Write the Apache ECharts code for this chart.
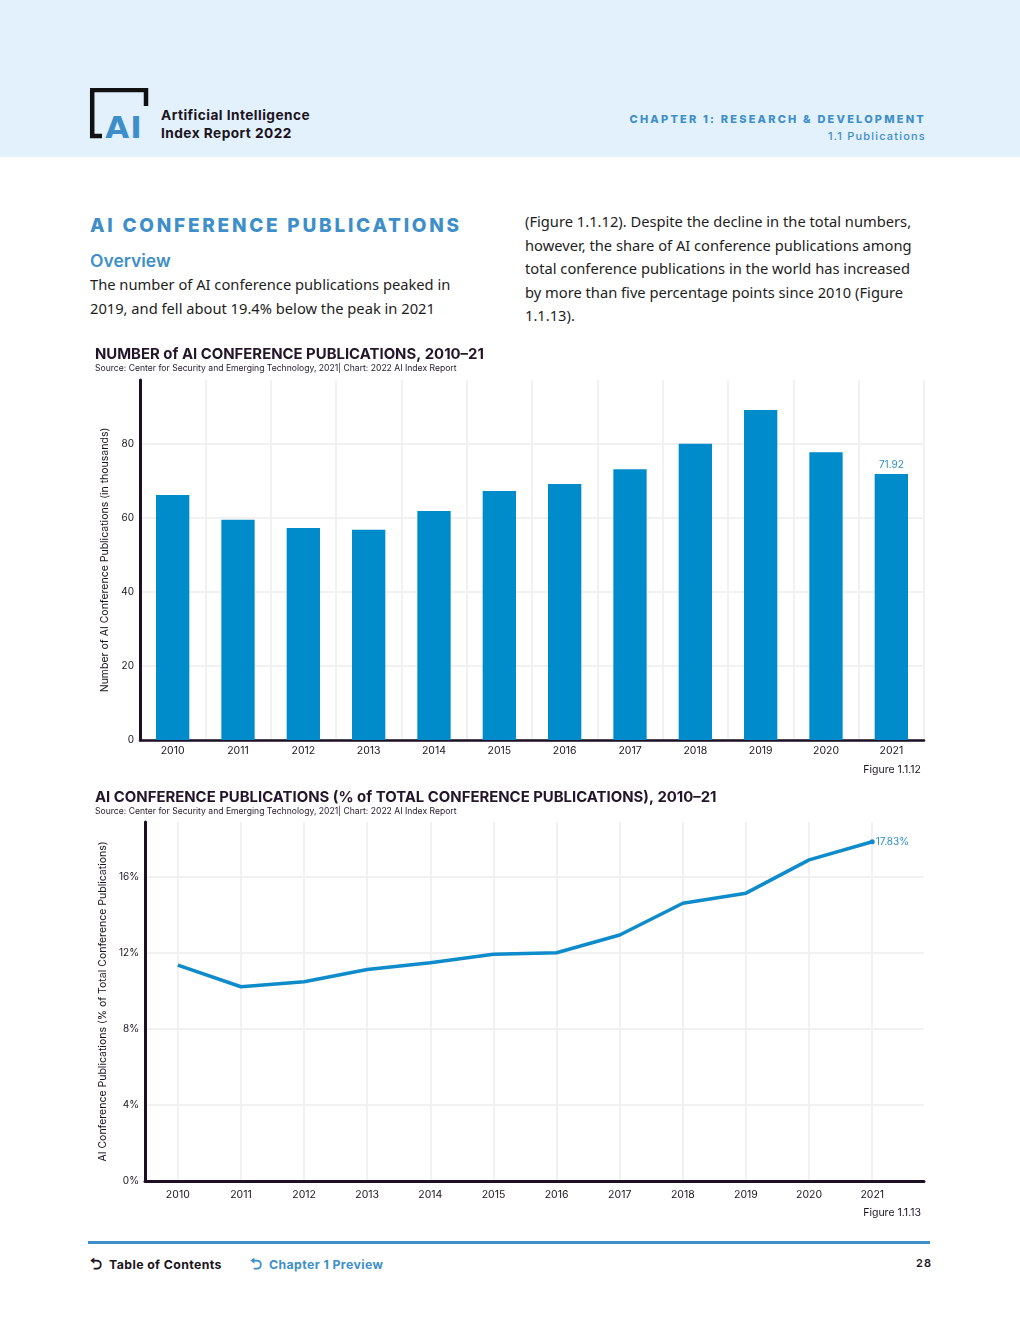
<!DOCTYPE html>
<html>
<head>
<meta charset="utf-8">
<script src="https://cdn.jsdelivr.net/npm/echarts@6/dist/echarts.min.js"></script>
<style>
  html, body { margin: 0; padding: 0; background: #ffffff; }
  body { width: 1020px; height: 1320px; position: relative; overflow: hidden; font-family: "Noto Sans", sans-serif; }
  .band { position: absolute; left: 0; top: 0; width: 1020px; height: 157px; background: #e3f1fc; }
  .brand { position: absolute; left: 161px; top: 106px; font-family: Inter, sans-serif; font-weight: 700; font-size: 13.7px; letter-spacing: 0.45px; line-height: 18px; color: #1b1420; }
  .chap { position: absolute; right: 94px; top: 111px; text-align: right; font-family: Inter, sans-serif; color: #3e8fc9; }
  .chap .l1 { font-weight: 800; font-size: 11px; letter-spacing: 2.2px; line-height: 16px; }
  .chap .l2 { font-weight: 500; font-size: 11px; letter-spacing: 1.2px; line-height: 18px; }
  .sect { position: absolute; left: 90px; top: 214px; font-family: Inter, sans-serif; font-weight: 800; font-size: 19px; letter-spacing: 2.75px; color: #3e8fc9; }
  .ovr { position: absolute; left: 90px; top: 250px; font-family: Inter, sans-serif; font-weight: 600; font-size: 17.5px; color: #3e8fc9; }
  .body1, .body2 { position: absolute; font-size: 14.7px; line-height: 23.6px; color: #1d1d1d; white-space: nowrap; }
  .body1 { left: 90px; top: 273px; }
  .body2 { left: 525px; top: 210px; }
  #chart { position: absolute; left: 0; top: 330px; width: 1020px; height: 900px; }
  .foot { position: absolute; left: 88px; top: 1241px; width: 842px; height: 3px; background: #3e8fc9; }
  .fl { position: absolute; top: 1253px; font-family: Inter, sans-serif; font-weight: 700; font-size: 12.3px; letter-spacing: 0.4px; white-space: nowrap; }
  .fl .ar { font-size: 15px; display: inline-block; width: 19px; }
  .pg { position: absolute; right: 88px; top: 1256px; font-family: Inter, sans-serif; font-weight: 600; font-size: 11px; letter-spacing: 1px; color: #1b1420; }
</style>
</head>
<body>
<div class="band"></div>
<svg style="position:absolute;left:88px;top:88px" width="62" height="54" viewBox="0 0 62 54">
  <path d="M2 2 H58 V18" fill="none" stroke="#111" stroke-width="4.5"/>
  <path d="M4.2 2 V48 H14" fill="none" stroke="#111" stroke-width="4.5"/>
  <text x="36" y="50.5" text-anchor="middle" font-family="DejaVu Sans, sans-serif" font-weight="900" font-size="31" fill="#3e8fc9" letter-spacing="1" transform="scale(1,0.95)" style="transform-origin:36px 50px">AI</text>
</svg>
<div class="brand">Artificial Intelligence<br>Index Report 2022</div>
<div class="chap"><div class="l1">CHAPTER 1: RESEARCH &amp; DEVELOPMENT</div><div class="l2">1.1 Publications</div></div>
<div class="sect">AI CONFERENCE PUBLICATIONS</div>
<div class="ovr">Overview</div>
<div class="body1">The number of AI conference publications peaked in<br>2019, and fell about 19.4% below the peak in 2021</div>
<div class="body2">(Figure 1.1.12). Despite the decline in the total numbers,<br>however, the share of AI conference publications among<br>total conference publications in the world has increased<br>by more than five percentage points since 2010 (Figure<br>1.1.13).</div>
<div id="chart"></div>
<div class="foot"></div>
<div class="fl" style="left:90px;color:#1b1420"><span class="ar">&#x2B8C;</span>Table of Contents</div>
<div class="fl" style="left:250px;color:#3e8fc9"><span class="ar">&#x2B8C;</span>Chapter 1 Preview</div>
<div class="pg">28</div>
<script>
const years = ['2010','2011','2012','2013','2014','2015','2016','2017','2018','2019','2020','2021'];
const pubCounts = [66.2, 59.5, 57.3, 56.8, 61.9, 67.3, 69.2, 73.2, 80.1, 89.2, 77.8, 71.92];
const pubShare = [11.35, 10.21, 10.47, 11.12, 11.47, 11.92, 12.00, 12.93, 14.60, 15.13, 16.88, 17.83];

const FONT = 'Inter, sans-serif';
const DARK = '#1d1024';
const GRIDC = '#f1f1f1';
const BLUE = '#008bcb';
const last = years.length - 1;

const titleStyle = { fontFamily: FONT, fontWeight: 700, fontSize: 14.9, color: '#24162a' };
const srcStyle = { fontFamily: FONT, fontWeight: 400, fontSize: 8.6, color: '#24162a' };
const figStyle = { fontFamily: FONT, fontWeight: 400, fontSize: 10.5, color: '#1b1420' };

const chart = echarts.init(document.getElementById('chart'), null, { renderer: 'canvas' });
chart.setOption({
  animation: false,
  textStyle: { fontFamily: FONT },
  title: [
    { text: 'NUMBER of AI CONFERENCE PUBLICATIONS, 2010–21', left: 95, top: 17, padding: 0, textStyle: titleStyle },
    { text: 'Source: Center for Security and Emerging Technology, 2021| Chart: 2022 AI Index Report', left: 95, top: 34, padding: 0, textStyle: srcStyle },
    { text: 'Figure 1.1.12', right: 99, top: 434, padding: 0, textStyle: figStyle },
    { text: 'AI CONFERENCE PUBLICATIONS (% of TOTAL CONFERENCE PUBLICATIONS), 2010–21', left: 95, top: 460, padding: 0, textStyle: titleStyle },
    { text: 'Source: Center for Security and Emerging Technology, 2021| Chart: 2022 AI Index Report', left: 95, top: 477, padding: 0, textStyle: srcStyle },
    { text: 'Figure 1.1.13', right: 99, top: 877, padding: 0, textStyle: figStyle }
  ],
  grid: [
    { left: 140, right: 96, top: 50, height: 360 },
    { left: 145, right: 96, top: 492, height: 359 }
  ],
  xAxis: [
    { type: 'category', gridIndex: 0, data: years,
      axisLine: { lineStyle: { color: DARK, width: 2.5 } },
      axisTick: { show: false },
      axisLabel: { color: '#1b1420', fontSize: 10.5, margin: 5, fontFamily: FONT },
      splitLine: { show: true, lineStyle: { color: GRIDC, width: 2 } } },
    { type: 'value', gridIndex: 1, min: 2009.48, max: 2021.82, minInterval: 1, maxInterval: 1,
      axisLine: { lineStyle: { color: DARK, width: 3 } },
      axisTick: { show: false },
      axisLabel: { color: '#1b1420', fontSize: 10.5, margin: 8, fontFamily: FONT,
        showMinLabel: false, showMaxLabel: false, formatter: v => String(Math.round(v)) },
      splitLine: { show: true, showMinLine: false, showMaxLine: false, lineStyle: { color: GRIDC, width: 2 } } }
  ],
  yAxis: [
    { type: 'value', gridIndex: 0, min: 0, max: 97.3, interval: 20,
      name: 'Number of AI Conference Publications (in thousands)', nameLocation: 'middle', nameGap: 26,
      nameTextStyle: { color: '#1b1420', fontSize: 10.5, fontFamily: FONT },
      axisLine: { show: true, lineStyle: { color: DARK, width: 3 } },
      axisTick: { show: false },
      axisLabel: { color: '#1b1420', fontSize: 10, margin: 6, showMaxLabel: false, fontFamily: FONT },
      splitLine: { show: true, showMaxLine: false, lineStyle: { color: GRIDC, width: 2 } } },
    { type: 'value', gridIndex: 1, min: 0, max: 18.87, interval: 4,
      name: 'AI Conference Publications (% of Total Conference Publications)', nameLocation: 'middle', nameGap: 31,
      nameTextStyle: { color: '#1b1420', fontSize: 10.5, fontFamily: FONT },
      axisLine: { show: true, lineStyle: { color: DARK, width: 3 } },
      axisTick: { show: false },
      axisLabel: { color: '#1b1420', fontSize: 10, margin: 6, showMaxLabel: false, fontFamily: FONT,
        formatter: v => v + '%' },
      splitLine: { show: true, showMaxLine: false, lineStyle: { color: GRIDC, width: 2 } } }
  ],
  series: [
    { type: 'bar', xAxisIndex: 0, yAxisIndex: 0, data: pubCounts, barWidth: '51%',
      itemStyle: { color: BLUE },
      label: { show: true, position: 'top', distance: 4, color: '#2a8fcb', fontSize: 10, fontFamily: FONT,
        formatter: p => p.dataIndex === last ? String(p.value) : '' } },
    { type: 'line', xAxisIndex: 1, yAxisIndex: 1,
      data: years.map((y, i) => [Number(y), pubShare[i]]),
      lineStyle: { color: '#0e8bca', width: 3.5 },
      itemStyle: { color: '#0e8bca' },
      symbol: 'circle', showSymbol: true,
      symbolSize: (v, p) => p.dataIndex === last ? 5 : 0,
      label: { show: true, position: 'right', distance: 1, color: '#2a8fcb', fontSize: 10, fontFamily: FONT,
        formatter: p => p.dataIndex === last ? p.value[1] + '%' : '' } }
  ]
});
</script>
</body>
</html>
